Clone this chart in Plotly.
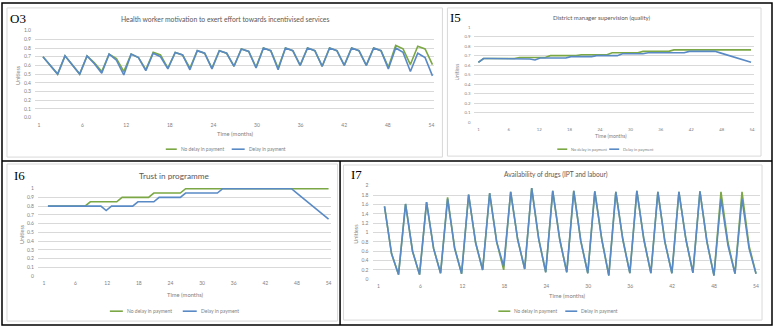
import plotly.graph_objects as go
import numpy as np

W, H = 776, 329

# ---------------- data ----------------
months = list(range(1, 55))
x_tick_labels = ["1", "6", "12", "18", "24", "30", "36", "42", "48", "54"]
series_names = ["No delay in payment", "Delay in payment"]

o3_no_delay = [0.70, 0.60, 0.50, 0.71, 0.61, 0.50, 0.71, 0.63, 0.53, 0.73, 0.68, 0.53,
               0.73, 0.69, 0.55, 0.75, 0.72, 0.57, 0.75, 0.72, 0.57, 0.77, 0.74, 0.57,
               0.77, 0.74, 0.59, 0.79, 0.76, 0.58, 0.80, 0.77, 0.57, 0.80, 0.77, 0.60,
               0.80, 0.77, 0.59, 0.80, 0.77, 0.60, 0.80, 0.77, 0.60, 0.80, 0.77, 0.58,
               0.83, 0.79, 0.61, 0.82, 0.79, 0.61]
o3_delay = [0.70, 0.60, 0.50, 0.71, 0.61, 0.50, 0.71, 0.62, 0.51, 0.73, 0.66, 0.49,
            0.73, 0.69, 0.54, 0.74, 0.70, 0.56, 0.75, 0.72, 0.55, 0.77, 0.74, 0.56,
            0.77, 0.74, 0.59, 0.79, 0.76, 0.57, 0.80, 0.77, 0.55, 0.80, 0.77, 0.60,
            0.80, 0.77, 0.59, 0.80, 0.77, 0.60, 0.80, 0.77, 0.60, 0.80, 0.77, 0.56,
            0.80, 0.75, 0.53, 0.74, 0.69, 0.48]

i5_no_delay = [0.63, 0.67, 0.67, 0.67, 0.67, 0.67, 0.67, 0.67, 0.68, 0.68, 0.68, 0.68,
               0.68, 0.68, 0.70, 0.70, 0.70, 0.70, 0.70, 0.70, 0.71, 0.71, 0.71, 0.71,
               0.71, 0.71, 0.73, 0.73, 0.73, 0.73, 0.73, 0.73, 0.745, 0.745, 0.745, 0.745,
               0.745, 0.745, 0.76, 0.76, 0.76, 0.76, 0.76, 0.76, 0.76, 0.76, 0.76, 0.76,
               0.76, 0.76, 0.76, 0.76, 0.76, 0.76]
i5_delay = [0.63, 0.67, 0.67, 0.67, 0.67, 0.67, 0.67, 0.67, 0.67, 0.67, 0.665, 0.655,
            0.675, 0.675, 0.675, 0.675, 0.675, 0.675, 0.69, 0.69, 0.69, 0.69, 0.69, 0.70,
            0.70, 0.70, 0.70, 0.70, 0.72, 0.72, 0.72, 0.72, 0.72, 0.73, 0.73, 0.73,
            0.73, 0.73, 0.73, 0.73, 0.73, 0.745, 0.745, 0.745, 0.745, 0.745, 0.745, 0.729,
            0.712, 0.696, 0.679, 0.663, 0.647, 0.63]

i6_no_delay = [0.80, 0.80, 0.80, 0.80, 0.80, 0.80, 0.80, 0.80, 0.85, 0.85, 0.85, 0.85,
               0.85, 0.85, 0.90, 0.90, 0.90, 0.90, 0.90, 0.90, 0.95, 0.95, 0.95, 0.95,
               0.95, 0.95, 1.00, 1.00, 1.00, 1.00, 1.00, 1.00, 1.00, 1.00, 1.00, 1.00,
               1.00, 1.00, 1.00, 1.00, 1.00, 1.00, 1.00, 1.00, 1.00, 1.00, 1.00, 1.00,
               1.00, 1.00, 1.00, 1.00, 1.00, 1.00]
i6_delay = [0.80, 0.80, 0.80, 0.80, 0.80, 0.80, 0.80, 0.80, 0.80, 0.80, 0.80, 0.75,
            0.80, 0.80, 0.80, 0.80, 0.80, 0.85, 0.85, 0.85, 0.85, 0.90, 0.90, 0.90,
            0.90, 0.90, 0.95, 0.95, 0.95, 0.95, 0.95, 0.95, 0.95, 1.00, 1.00, 1.00,
            1.00, 1.00, 1.00, 1.00, 1.00, 1.00, 1.00, 1.00, 1.00, 1.00, 1.00, 0.95,
            0.90, 0.85, 0.80, 0.75, 0.70, 0.65]

i7_no_delay = [1.56, 0.55, 0.10, 1.61, 0.60, 0.10, 1.65, 0.66, 0.13, 1.75, 0.68, 0.12,
               1.81, 0.78, 0.20, 1.84, 0.80, 0.20, 1.87, 0.85, 0.22, 1.95, 0.86, 0.15,
               1.89, 0.85, 0.15, 1.89, 0.82, 0.13, 1.88, 0.85, 0.08, 1.87, 0.85, 0.13,
               1.89, 0.85, 0.13, 1.87, 0.80, 0.13, 1.87, 0.85, 0.14, 1.88, 0.80, 0.08,
               1.87, 0.78, 0.12, 1.87, 0.72, 0.12]
i7_delay = [1.56, 0.55, 0.10, 1.61, 0.60, 0.10, 1.65, 0.66, 0.13, 1.72, 0.66, 0.12,
            1.81, 0.78, 0.20, 1.84, 0.80, 0.28, 1.87, 0.85, 0.22, 1.95, 0.86, 0.15,
            1.89, 0.85, 0.15, 1.89, 0.82, 0.13, 1.88, 0.85, 0.08, 1.87, 0.85, 0.13,
            1.89, 0.85, 0.13, 1.87, 0.80, 0.13, 1.87, 0.85, 0.14, 1.88, 0.80, 0.08,
            1.72, 0.72, 0.12, 1.72, 0.66, 0.12]

# ---------------- styling / geometry (pixels) ----------------
GREEN = "#7BA844"
BLUE = "#5A8AC6"
GRID = "#D9D9D9"
TXT = "#595959"
TICK = "#7F7F7F"
SANS = "Lato, 'Open Sans', sans-serif"
SERIF = "'Liberation Serif', 'DejaVu Serif', serif"

panels = [
    dict(label="O3", title="Health worker motivation to exert effort towards incentivised services",
         data=(o3_no_delay, o3_delay), box=(7, 6, 443, 157), plot_x=(35, 435), ytop_px=29, y0_px=117,
         ymax=1.0, dtick=0.1, fmt=".1f", t1px=43, t54px=433, lab=(39, 432), label_xy=(18, 17),
         title_xy=(225, 17), title_size=6.8, xt_xy=(236, 133), yt_xy=(18, 74), tick_size=5,
         legend_y=149, leg=((166, 177, 179), (232, 245, 247)), leg_size=4.8),
    dict(label="I5", title="District manager supervision (quality)",
         data=(i5_no_delay, i5_delay), box=(448, 6, 762, 156), plot_x=(475, 755), ytop_px=25.3, y0_px=122,
         ymax=1.0, dtick=0.1, fmt="", t1px=479, t54px=752, lab=(479, 753), label_xy=(456, 16),
         title_xy=(603, 16), title_size=6.0, xt_xy=(612, 136), yt_xy=(458, 71), tick_size=4.3,
         legend_y=149, leg=((558, 568, 570), (610, 620, 622)), leg_size=4.0),
    dict(label="I6", title="Trust in programme",
         data=(i6_no_delay, i6_delay), box=(7, 164, 338, 323), plot_x=(38, 331), ytop_px=189, y0_px=277.3,
         ymax=1.0, dtick=0.1, fmt="", t1px=48, t54px=329, lab=(44, 329), label_xy=(20, 176),
         title_xy=(174, 176), title_size=8.2, xt_xy=(186, 296), yt_xy=(22, 235), tick_size=5,
         legend_y=313, leg=((110, 123, 125), (183, 197, 199)), leg_size=5.0),
    dict(label="I7", title="Availability of drugs (IPT and labour)",
         data=(i7_no_delay, i7_delay), box=(344, 165, 763, 322), plot_x=(373, 761), ytop_px=186, y0_px=280.7,
         ymax=2.0, dtick=0.2, fmt="", t1px=385, t54px=757, lab=(379, 757), label_xy=(357, 175),
         title_xy=(557, 175), title_size=6.6, xt_xy=(568, 297), yt_xy=(357, 235), tick_size=5,
         legend_y=313, leg=((499, 511, 513), (566, 578, 580)), leg_size=4.8),
]


def fx(x):
    return x / W


def fy(y):
    return 1 - y / H


fig = go.Figure()
shapes = []
annotations = []
layout_axes = {}

for i, p in enumerate(panels, start=1):
    xname = "x" if i == 1 else f"x{i}"
    yname = "y" if i == 1 else f"y{i}"
    xkey = "xaxis" if i == 1 else f"xaxis{i}"
    ykey = "yaxis" if i == 1 else f"yaxis{i}"

    # chart-area frame
    bx0, by0, bx1, by1 = p["box"]
    shapes.append(dict(type="rect", xref="paper", yref="paper", x0=fx(bx0), x1=fx(bx1),
                       y0=fy(by1), y1=fy(by0), line=dict(color=GRID, width=1), fillcolor="white",
                       layer="below"))

    # x axis mapping
    s = (p["t54px"] - p["t1px"]) / 53.0
    x0, x1 = p["plot_x"]
    xr = [1 + (x0 - p["t1px"]) / s, 1 + (x1 - p["t1px"]) / s]
    tickvals = [1 + (lp - p["t1px"]) / s for lp in np.linspace(p["lab"][0], p["lab"][1], 10)]

    # y axis mapping (1px padding)
    vpp = p["ymax"] / (p["y0_px"] - p["ytop_px"])
    yr = [-vpp, p["ymax"] + vpp]
    ydom = [fy(p["y0_px"] + 1), fy(p["ytop_px"] - 1)]

    layout_axes[xkey] = dict(domain=[fx(x0), fx(x1)], anchor=yname, range=xr, tickmode="array",
                             tickvals=tickvals, ticktext=x_tick_labels, showgrid=False, zeroline=False,
                             showline=False, ticks="", ticklabelstandoff=2,
                             tickfont=dict(family=SANS, size=p["tick_size"], color=TICK), fixedrange=True)
    layout_axes[ykey] = dict(domain=ydom, anchor=xname, range=yr, tick0=0, dtick=p["dtick"],
                             tickformat=p["fmt"], showgrid=True, gridcolor=GRID, gridwidth=1,
                             zeroline=False, showline=False, ticks="", ticklabelstandoff=3,
                             tickfont=dict(family=SANS, size=p["tick_size"], color=TICK), fixedrange=True)

    for name, vals, col in zip(series_names, p["data"], (GREEN, BLUE)):
        fig.add_trace(go.Scatter(x=months, y=vals, mode="lines", name=name,
                                 line=dict(color=col, width=1.6), xaxis=xname, yaxis=yname,
                                 showlegend=False))

    # panel label
    annotations.append(dict(text=p["label"], x=fx(p["label_xy"][0]), y=fy(p["label_xy"][1]),
                            xref="paper", yref="paper", showarrow=False, xanchor="center", yanchor="middle",
                            font=dict(family=SERIF, size=13, color="#000000")))
    # title
    annotations.append(dict(text=p["title"], x=fx(p["title_xy"][0]), y=fy(p["title_xy"][1]),
                            xref="paper", yref="paper", showarrow=False, xanchor="center", yanchor="middle",
                            font=dict(family=SANS, size=p["title_size"], color=TXT)))
    # axis titles
    annotations.append(dict(text="Time (months)", x=fx(p["xt_xy"][0]), y=fy(p["xt_xy"][1]),
                            xref="paper", yref="paper", showarrow=False, xanchor="center", yanchor="middle",
                            font=dict(family=SANS, size=p["tick_size"] + 0.8, color=TICK)))
    annotations.append(dict(text="Unitless", x=fx(p["yt_xy"][0]), y=fy(p["yt_xy"][1]), textangle=-90,
                            xref="paper", yref="paper", showarrow=False, xanchor="center", yanchor="middle",
                            font=dict(family=SANS, size=p["tick_size"] + 0.5, color=TICK)))
    # legend (drawn manually, Excel-like short keys)
    for (lx0, lx1, tx), name, col in zip(p["leg"], series_names, (GREEN, BLUE)):
        shapes.append(dict(type="line", xref="paper", yref="paper", x0=fx(lx0), x1=fx(lx1),
                           y0=fy(p["legend_y"]), y1=fy(p["legend_y"]), line=dict(color=col, width=1.6)))
        annotations.append(dict(text=name, x=fx(tx), y=fy(p["legend_y"]), xref="paper", yref="paper",
                                showarrow=False, xanchor="left", yanchor="middle",
                                font=dict(family=SANS, size=p["leg_size"], color=TICK)))

# black outer frames
frame = dict(color="#000000", width=1.5)
shapes.append(dict(type="rect", xref="paper", yref="paper", x0=fx(2), x1=fx(773), y0=fy(327), y1=fy(1),
                   line=frame, fillcolor="rgba(0,0,0,0)"))
shapes.append(dict(type="line", xref="paper", yref="paper", x0=fx(2), x1=fx(773), y0=fy(161), y1=fy(161),
                   line=frame))
shapes.append(dict(type="line", xref="paper", yref="paper", x0=fx(340.5), x1=fx(340.5), y0=fy(161), y1=fy(327),
                   line=frame))

fig.update_layout(width=W, height=H, margin=dict(l=0, r=0, t=0, b=0), paper_bgcolor="white",
                  plot_bgcolor="rgba(0,0,0,0)", showlegend=False, shapes=shapes, annotations=annotations,
                  **layout_axes)

fig.write_html("out.html")
